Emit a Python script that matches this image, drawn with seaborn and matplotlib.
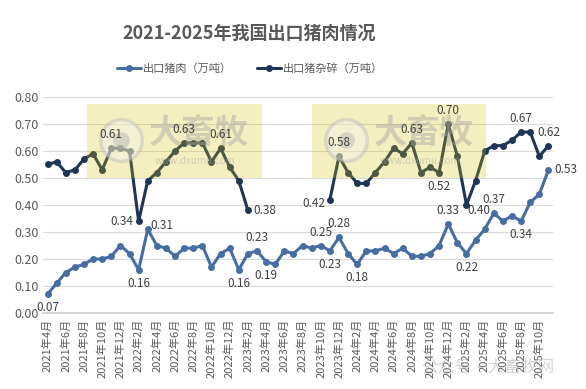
import matplotlib
matplotlib.use("Agg")
import matplotlib.pyplot as plt
import matplotlib.patches as mpatches
from matplotlib.lines import Line2D
import numpy as np
import pandas as pd
import seaborn as sns

# monthly categories, 2021-04 .. 2025-11
months = [f"{p.year}年{p.month}月" for p in pd.period_range("2021-04", "2025-11", freq="M")]

pork = [0.07, 0.11, 0.15, 0.17, 0.18, 0.20, 0.20, 0.21, 0.25, 0.22,
        0.16, 0.31, 0.25, 0.24, 0.21, 0.24, 0.24, 0.25, 0.17, 0.22,
        0.24, 0.16, 0.22, 0.23, 0.19, 0.18, 0.23, 0.22, 0.25, 0.24,
        0.25, 0.23, 0.28, 0.22, 0.18, 0.23, 0.23, 0.24, 0.22, 0.24,
        0.21, 0.21, 0.22, 0.25, 0.33, 0.26, 0.22, 0.27, 0.31, 0.37,
        0.34, 0.36, 0.34, 0.41, 0.44, 0.53]

offal = [0.55, 0.56, 0.52, 0.53, 0.57, 0.59, 0.53, 0.61, 0.61, 0.60,
         0.34, 0.49, 0.52, 0.56, 0.60, 0.63, 0.63, 0.63, 0.56, 0.61,
         0.54, 0.49, 0.38, None, None, None, None, None, None, None,
         None, 0.42, 0.58, 0.52, 0.48, 0.48, 0.52, 0.56, 0.61, 0.59,
         0.63, 0.52, 0.54, 0.52, 0.70, 0.58, 0.40, 0.49, 0.60, 0.62,
         0.62, 0.64, 0.67, 0.67, 0.58, 0.62]

series_names = ["出口猪肉（万吨）", "出口猪杂碎（万吨）"]
colors = ["#466ea3", "#1f3556"]

# which points carry a data label, and where (dx, dy in points, ha, va)
A, B, L, R = (0, 5, "center", "bottom"), (0, -5, "center", "top"), (-4, 0, "right", "center"), (4, 0, "left", "center")
pork_labels = {0: B, 10: B, 11: (2, 3, "left", "center"), 21: B, 23: A, 24: B, 30: A,
               31: B, 32: A, 34: B, 44: A, 46: B, 49: A, 52: B, 55: R}
offal_labels = {7: A, 10: L, 15: A, 19: A, 22: R, 31: (-3, -3, "right", "center"),
                32: A, 40: A, 43: B, 44: A, 46: (1, -4, "left", "center"),
                52: A, 55: A}

sns.set_theme(style="white")
plt.rcParams["font.family"] = ["Noto Sans CJK SC", "DejaVu Sans"]
grey = "#595959"

x = np.arange(len(months))
df_p = pd.DataFrame({"x": x, "v": pork})
df_o = pd.DataFrame({"x": x, "v": pd.to_numeric(pd.Series(offal), errors="coerce")})
# segment id so the gap in the offal series is not bridged
df_o["seg"] = df_o["v"].isna().cumsum()
df_o = df_o.dropna()

fig = plt.figure(figsize=(5.86, 3.89), dpi=100)
ax = fig.add_axes([43 / 586, 1 - 313 / 389, 510 / 586, 216 / 389])

sns.lineplot(data=df_p, x="x", y="v", ax=ax, color=colors[0], lw=2.2,
             marker="o", markersize=5, markeredgewidth=0, zorder=3)
sns.lineplot(data=df_o, x="x", y="v", units="seg", estimator=None, ax=ax,
             color=colors[1], lw=2.2, marker="o", markersize=5,
             markeredgewidth=0, zorder=3)

for vals, labs in [(pork, pork_labels), (offal, offal_labels)]:
    for i, (dx, dy, ha, va) in labs.items():
        ax.annotate(f"{vals[i]:.2f}", (i, vals[i]), xytext=(dx, dy),
                    textcoords="offset points", ha=ha, va=va,
                    fontsize=8.5, color="#404040", zorder=6)

ax.set_xlim(-0.5, len(months) - 0.5)
ax.set_ylim(0, 0.8)
ax.set_yticks(np.arange(0, 0.81, 0.1))
ax.set_yticklabels([f"{t:.2f}" for t in np.arange(0, 0.81, 0.1)], fontsize=9, color=grey)
ax.set_xticks(x[::2])
ax.set_xticklabels(months[::2], rotation=90, fontsize=8, color=grey)
ax.set_xticks(np.arange(-0.5, len(months), 2), minor=True)
ax.tick_params(axis="x", which="major", length=0, pad=4)
ax.tick_params(axis="x", which="minor", length=4, color="#d0d0d0", width=0.8)
ax.tick_params(axis="y", length=0, pad=3)
ax.set_xlabel("")
ax.set_ylabel("")
ax.grid(axis="y", color="#d9d9d9", lw=0.8)
for s in ["top", "right", "left"]:
    ax.spines[s].set_visible(False)
ax.spines["bottom"].set_color("#cfcfcf")

# watermark boxes (site logo over the chart), kept inside ax so labels stay on top
tf = fig.transFigure
for x0, x1 in [(87, 262), (312, 486)]:
    ax.add_patch(mpatches.Rectangle((x0 / 586, 1 - 178 / 389), (x1 - x0) / 586, 74 / 389,
                                    transform=tf, facecolor="#d7c300", alpha=0.25,
                                    edgecolor="none", zorder=4, clip_on=False))
    cx = x0 + 34
    ax.add_line(Line2D([cx / 586], [1 - 140 / 389], marker="o", markersize=30,
                       markerfacecolor="#f2f2f2", markeredgecolor="#bbbbbb",
                       markeredgewidth=2.5, alpha=0.45, transform=tf, zorder=4, clip_on=False))
    ax.add_line(Line2D([cx / 586], [1 - 140 / 389], marker="o", markersize=12,
                       markerfacecolor="#b0b0b0", markeredgewidth=0, alpha=0.45,
                       transform=tf, zorder=4, clip_on=False))
    ax.text((x0 + 112) / 586, 1 - 133 / 389, "大畜牧", fontsize=24, fontweight="bold",
            color="#a5a5a5", alpha=0.45, ha="center", va="center", zorder=4, transform=tf)
    ax.text((x0 + 108) / 586, 1 - 161 / 389, "www.dxumu.com", fontsize=7,
            color="#a8a8a8", alpha=0.5, ha="center", va="center", zorder=4, transform=tf)

fig.text(488 / 586, 1 - 367 / 389, "公众号·大畜牧网", fontsize=12, color="#b0b0b0",
         alpha=0.55, ha="center", va="center")

fig.text(249 / 586, 1 - 33 / 389, "2021-2025年我国出口猪肉情况", fontsize=13,
         fontweight="bold", color=grey, ha="center", va="center")

handles = [Line2D([], [], color=c, lw=2.2, marker="o", markersize=5, markeredgewidth=0)
           for c in colors]
fig.legend(handles, series_names, loc="center", bbox_to_anchor=(250 / 586, 1 - 69 / 389),
           ncol=2, frameon=False, fontsize=8, labelcolor=grey, handlelength=2.2,
           handletextpad=0.2, columnspacing=2.2)

fig.savefig("out.png", dpi=100)
